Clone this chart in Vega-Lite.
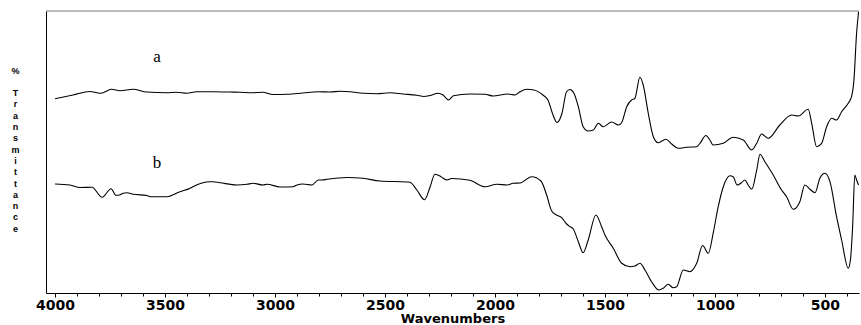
{
  "$schema": "https://vega.github.io/schema/vega-lite/v6.json",
  "width": 813,
  "height": 282,
  "autosize": {"type": "none"},
  "padding": {"left": 46, "top": 11, "right": 2, "bottom": 32},
  "background": "white",
  "config": {"view": {"stroke": null}},
  "datasets": {
    "spectra": [
      {"s":"a","wn":4000,"t":194.3},{"s":"a","wn":3918,"t":198},{"s":"a","wn":3841,"t":201.5},{"s":"a","wn":3818,"t":200.7},{"s":"a","wn":3791,"t":199.7},{"s":"a","wn":3743,"t":203.8},{"s":"a","wn":3705,"t":202.3},{"s":"a","wn":3645,"t":203.7},{"s":"a","wn":3583,"t":201},{"s":"a","wn":3492,"t":200.3},{"s":"a","wn":3447,"t":200.7},{"s":"a","wn":3401,"t":199.7},{"s":"a","wn":3356,"t":201.3},{"s":"a","wn":3282,"t":201.3},{"s":"a","wn":3205,"t":201},{"s":"a","wn":3159,"t":200.7},{"s":"a","wn":3100,"t":200.3},{"s":"a","wn":3055,"t":200.7},{"s":"a","wn":3009,"t":198.5},{"s":"a","wn":2945,"t":198.7},{"s":"a","wn":2873,"t":200},{"s":"a","wn":2805,"t":201.3},{"s":"a","wn":2750,"t":201},{"s":"a","wn":2705,"t":201.7},{"s":"a","wn":2659,"t":201.3},{"s":"a","wn":2600,"t":199.7},{"s":"a","wn":2536,"t":199.3},{"s":"a","wn":2477,"t":200.3},{"s":"a","wn":2418,"t":199},{"s":"a","wn":2355,"t":197.7},{"s":"a","wn":2323,"t":196.5},{"s":"a","wn":2295,"t":197.5},{"s":"a","wn":2259,"t":199.7},{"s":"a","wn":2236,"t":198},{"s":"a","wn":2211,"t":193},{"s":"a","wn":2189,"t":197.3},{"s":"a","wn":2114,"t":199},{"s":"a","wn":2045,"t":198.7},{"s":"a","wn":2009,"t":197},{"s":"a","wn":1941,"t":199},{"s":"a","wn":1909,"t":198},{"s":"a","wn":1886,"t":201.3},{"s":"a","wn":1855,"t":203.7},{"s":"a","wn":1823,"t":203},{"s":"a","wn":1782,"t":198},{"s":"a","wn":1759,"t":193},{"s":"a","wn":1736,"t":178},{"s":"a","wn":1718,"t":170.5},{"s":"a","wn":1695,"t":180},{"s":"a","wn":1675,"t":201},{"s":"a","wn":1659,"t":203.5},{"s":"a","wn":1641,"t":199.7},{"s":"a","wn":1621,"t":186.3},{"s":"a","wn":1599,"t":166.3},{"s":"a","wn":1576,"t":162},{"s":"a","wn":1553,"t":163},{"s":"a","wn":1530,"t":169.7},{"s":"a","wn":1508,"t":166.3},{"s":"a","wn":1469,"t":171},{"s":"a","wn":1439,"t":168},{"s":"a","wn":1424,"t":170.3},{"s":"a","wn":1401,"t":186.3},{"s":"a","wn":1379,"t":193},{"s":"a","wn":1364,"t":194.7},{"s":"a","wn":1341,"t":215.7},{"s":"a","wn":1326,"t":208},{"s":"a","wn":1303,"t":179.7},{"s":"a","wn":1280,"t":156.3},{"s":"a","wn":1258,"t":150.3},{"s":"a","wn":1223,"t":153.7},{"s":"a","wn":1197,"t":149},{"s":"a","wn":1167,"t":144.7},{"s":"a","wn":1129,"t":145.7},{"s":"a","wn":1083,"t":146.3},{"s":"a","wn":1068,"t":149.7},{"s":"a","wn":1041,"t":157.5},{"s":"a","wn":1023,"t":153},{"s":"a","wn":1008,"t":148},{"s":"a","wn":962,"t":149.7},{"s":"a","wn":917,"t":155.7},{"s":"a","wn":871,"t":153},{"s":"a","wn":833,"t":143},{"s":"a","wn":810,"t":149.7},{"s":"a","wn":788,"t":159},{"s":"a","wn":758,"t":154.7},{"s":"a","wn":705,"t":168},{"s":"a","wn":651,"t":178},{"s":"a","wn":621,"t":177},{"s":"a","wn":576,"t":183.7},{"s":"a","wn":560,"t":169.7},{"s":"a","wn":538,"t":146.3},{"s":"a","wn":515,"t":149.7},{"s":"a","wn":492,"t":166.3},{"s":"a","wn":469,"t":174.7},{"s":"a","wn":447,"t":173},{"s":"a","wn":424,"t":181.3},{"s":"a","wn":394,"t":189.7},{"s":"a","wn":379,"t":196.3},{"s":"a","wn":368,"t":213},{"s":"a","wn":356,"t":259.7},{"s":"a","wn":347,"t":281.3},
      {"s":"b","wn":4000,"t":109},{"s":"b","wn":3932,"t":108},{"s":"b","wn":3886,"t":105.5},{"s":"b","wn":3832,"t":105.7},{"s":"b","wn":3786,"t":95.7},{"s":"b","wn":3745,"t":104.3},{"s":"b","wn":3723,"t":97.7},{"s":"b","wn":3707,"t":98},{"s":"b","wn":3690,"t":99.7},{"s":"b","wn":3673,"t":100.3},{"s":"b","wn":3645,"t":98.7},{"s":"b","wn":3582,"t":97.5},{"s":"b","wn":3568,"t":96.3},{"s":"b","wn":3491,"t":96.3},{"s":"b","wn":3432,"t":101.3},{"s":"b","wn":3386,"t":104.7},{"s":"b","wn":3373,"t":106.3},{"s":"b","wn":3295,"t":111.3},{"s":"b","wn":3282,"t":111.3},{"s":"b","wn":3250,"t":110.3},{"s":"b","wn":3173,"t":108},{"s":"b","wn":3127,"t":108.7},{"s":"b","wn":3100,"t":109.7},{"s":"b","wn":3055,"t":108},{"s":"b","wn":3036,"t":108.7},{"s":"b","wn":2977,"t":106},{"s":"b","wn":2918,"t":106.3},{"s":"b","wn":2900,"t":108},{"s":"b","wn":2873,"t":109},{"s":"b","wn":2832,"t":108},{"s":"b","wn":2803,"t":113},{"s":"b","wn":2786,"t":113},{"s":"b","wn":2764,"t":113.7},{"s":"b","wn":2673,"t":115.5},{"s":"b","wn":2600,"t":114.7},{"s":"b","wn":2523,"t":112},{"s":"b","wn":2400,"t":111},{"s":"b","wn":2386,"t":110.7},{"s":"b","wn":2355,"t":103},{"s":"b","wn":2320,"t":93.3},{"s":"b","wn":2295,"t":106},{"s":"b","wn":2273,"t":118.8},{"s":"b","wn":2250,"t":117},{"s":"b","wn":2235,"t":114.7},{"s":"b","wn":2218,"t":113},{"s":"b","wn":2197,"t":114.5},{"s":"b","wn":2114,"t":112.7},{"s":"b","wn":2045,"t":106.3},{"s":"b","wn":1991,"t":108.7},{"s":"b","wn":1945,"t":108},{"s":"b","wn":1918,"t":109.7},{"s":"b","wn":1886,"t":110},{"s":"b","wn":1833,"t":116.3},{"s":"b","wn":1791,"t":112},{"s":"b","wn":1765,"t":98},{"s":"b","wn":1742,"t":82},{"s":"b","wn":1720,"t":78},{"s":"b","wn":1697,"t":75.3},{"s":"b","wn":1674,"t":69},{"s":"b","wn":1659,"t":66.3},{"s":"b","wn":1644,"t":64},{"s":"b","wn":1621,"t":51.3},{"s":"b","wn":1599,"t":40.3},{"s":"b","wn":1576,"t":53},{"s":"b","wn":1541,"t":78},{"s":"b","wn":1515,"t":66.3},{"s":"b","wn":1500,"t":58},{"s":"b","wn":1462,"t":44.7},{"s":"b","wn":1424,"t":29.7},{"s":"b","wn":1386,"t":26.3},{"s":"b","wn":1364,"t":27},{"s":"b","wn":1341,"t":29.7},{"s":"b","wn":1318,"t":23},{"s":"b","wn":1288,"t":11.3},{"s":"b","wn":1255,"t":3},{"s":"b","wn":1235,"t":4.7},{"s":"b","wn":1212,"t":8.7},{"s":"b","wn":1190,"t":5.3},{"s":"b","wn":1174,"t":6.3},{"s":"b","wn":1144,"t":23},{"s":"b","wn":1114,"t":21.3},{"s":"b","wn":1083,"t":29.7},{"s":"b","wn":1056,"t":47.5},{"s":"b","wn":1030,"t":39.7},{"s":"b","wn":1008,"t":59.7},{"s":"b","wn":985,"t":86.3},{"s":"b","wn":962,"t":106.3},{"s":"b","wn":932,"t":117.3},{"s":"b","wn":917,"t":116.3},{"s":"b","wn":899,"t":108},{"s":"b","wn":879,"t":110.3},{"s":"b","wn":864,"t":113},{"s":"b","wn":849,"t":108},{"s":"b","wn":833,"t":103.7},{"s":"b","wn":810,"t":123},{"s":"b","wn":795,"t":138.7},{"s":"b","wn":773,"t":131.3},{"s":"b","wn":735,"t":118},{"s":"b","wn":697,"t":103},{"s":"b","wn":674,"t":96.3},{"s":"b","wn":644,"t":83.7},{"s":"b","wn":614,"t":91.3},{"s":"b","wn":591,"t":108},{"s":"b","wn":568,"t":103.7},{"s":"b","wn":545,"t":100.3},{"s":"b","wn":523,"t":114.7},{"s":"b","wn":500,"t":119.7},{"s":"b","wn":477,"t":111.3},{"s":"b","wn":447,"t":76.3},{"s":"b","wn":424,"t":53},{"s":"b","wn":394,"t":24.7},{"s":"b","wn":384,"t":33},{"s":"b","wn":374,"t":66.3},{"s":"b","wn":364,"t":118},{"s":"b","wn":356,"t":113},{"s":"b","wn":347,"t":108}
    ],
    "labels": [
      {"s":"a","wn":3536,"t":236},
      {"s":"b","wn":3536,"t":130}
    ],
    "frame": [{"t": 282}]
  },
  "resolve": {"axis": {"x": "independent"}},
  "layer": [
    {
      "data": {"name": "spectra"},
      "mark": {"type": "line", "color": "black", "strokeWidth": 1.1, "interpolate": "monotone"},
      "encoding": {
        "x": {
          "field": "wn", "type": "quantitative",
          "scale": {"domain": [345, 4041], "reverse": true, "nice": false, "zero": false},
          "axis": {
            "orient": "bottom",
            "title": "Wavenumbers",
            "values": [4000,3500,3000,2500,2000,1500,1000,500],
            "format": "d",
            "labelOverlap": false,
            "labelFlush": false,
            "labelFont": "DejaVu Sans",
            "labelFontWeight": "bold",
            "labelFontSize": 14,
            "labelColor": "black",
            "labelPadding": 1,
            "tickSize": 4,
            "tickColor": "black",
            "domainColor": "black",
            "grid": false,
            "titleFont": "DejaVu Sans",
            "titleFontWeight": "bold",
            "titleFontSize": 13,
            "titleColor": "black",
            "titlePadding": 0
          }
        },
        "y": {
          "field": "t", "type": "quantitative",
          "scale": {"domain": [0, 282], "nice": false, "zero": false},
          "axis": {
            "title": ["%", "\u2800", "T", "r", "a", "n", "s", "m", "i", "t", "t", "a", "n", "c", "e"],
            "titleAngle": 0,
            "titleAlign": "center",
            "titleBaseline": "middle",
            "titleX": -31,
            "titleY": 59,
            "titleLineHeight": 11.3,
            "titleFont": "Liberation Sans",
            "titleFontWeight": "bold",
            "titleFontSize": 9,
            "titleColor": "black",
            "labels": false,
            "ticks": false,
            "grid": false,
            "domainColor": "black"
          }
        },
        "detail": {"field": "s"}
      }
    },
    {
      "data": {"name": "frame"},
      "mark": {"type": "rule", "color": "#777777", "strokeWidth": 1},
      "encoding": {"y": {"field": "t", "type": "quantitative"}}
    },
    {
      "data": {"name": "labels"},
      "mark": {"type": "text", "font": "Liberation Serif", "fontSize": 17, "color": "black", "align": "center", "baseline": "middle"},
      "encoding": {
        "x": {
          "field": "wn", "type": "quantitative",
          "axis": {
            "orient": "bottom",
            "title": null,
            "values": [3900,3800,3700,3600,3400,3300,3200,3100,2900,2800,2700,2600,2400,2300,2200,2100,1900,1800,1700,1600,1400,1300,1200,1100,900,800,700,600,400],
            "labels": false,
            "domain": false,
            "grid": false,
            "tickSize": 3,
            "tickColor": "black"
          }
        },
        "y": {"field": "t", "type": "quantitative"},
        "text": {"field": "s"}
      }
    }
  ]
}
